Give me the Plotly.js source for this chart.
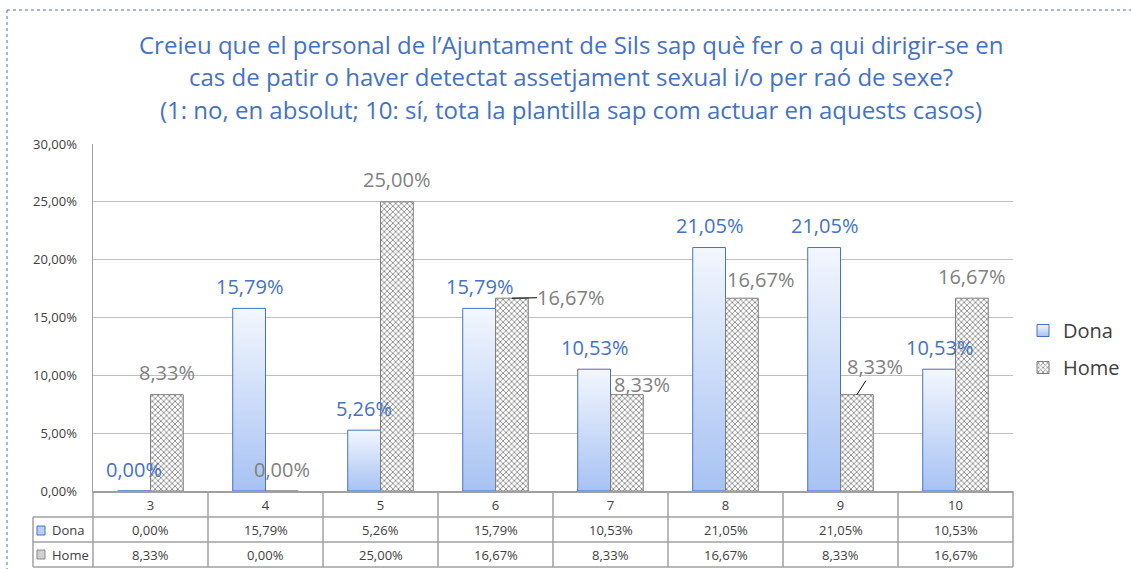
<!DOCTYPE html>
<html>
<head>
<meta charset="utf-8">
<script src="https://cdn.plot.ly/plotly-3.0.1.min.js"></script>
<style>
  html, body { margin: 0; padding: 0; background: #fff; }
  #chart { width: 1131px; height: 569px; }
</style>
</head>
<body>
<svg width="0" height="0" style="position:absolute">
  <defs>
    <linearGradient id="donaGrad" x1="0" y1="0" x2="0" y2="1">
      <stop offset="0" stop-color="#f3f7fe"/>
      <stop offset="1" stop-color="#a7c2f3"/>
    </linearGradient>
  </defs>
</svg>
<div id="chart"></div>
<script>
// ---- data ----
const categories = ['3', '4', '5', '6', '7', '8', '9', '10'];
const dona = [0.0000, 0.1579, 0.0526, 0.1579, 0.1053, 0.2105, 0.2105, 0.1053];
const home = [0.0833, 0.0000, 0.2500, 0.1667, 0.0833, 0.1667, 0.0833, 0.1667];
const seriesNames = ['Dona', 'Home'];
const titleLines = [
  "Creieu que el personal de l’Ajuntament de Sils sap què fer o a qui dirigir-se en",
  "cas de patir o haver detectat assetjament sexual i/o per raó de sexe?",
  "(1: no, en absolut; 10: sí, tota la plantilla sap com actuar en aquests casos)"
];

// ---- styling / geometry helpers ----
const W = 1131, H = 569;
const L = 93, R = 1013, T = 144, B = 491;
const PX = px => (px - L) / (R - L);
const PY = py => (B - py) / (B - T);
const BLUE = '#4472C4';
const GREY_TXT = '#808080';
const DARK = '#404040';
const GRID = '#c0c0c0';
const TABLE = '#a0a0a0';
const fmt = v => (v * 100).toFixed(2).replace('.', ',') + '%';
const FONT = 'Open Sans, Noto Sans, sans-serif';

// label placement tweaks (pixels), keyed by series index and category
const labelTweak = {
  '1-6': {arrow: true, ax: 59, ay: -1},
  '1-7': {dx: 15, dy: -12},
  '1-8': {dx: 19, dy: -3},
  '1-9': {arrow: true, ax: 18, ay: -28}
};

const data = [
  {
    type: 'bar', name: seriesNames[0], x: categories, y: dona,
    legendgroup: 'a',
    marker: {color: '#bcd0f5', line: {color: BLUE, width: 1}},
    hoverinfo: 'none'
  },
  {
    type: 'bar', name: seriesNames[1], x: categories, y: home,
    legendgroup: 'b',
    marker: {
      color: '#ffffff',
      line: {color: '#7f7f7f', width: 1},
      pattern: {shape: 'x', fgcolor: '#8a8a8a', bgcolor: '#ffffff', size: 4, solidity: 0.4}
    },
    hoverinfo: 'none'
  }
];

const annotations = [];
const shapes = [];

// title lines
const titleY = [44, 77, 109];
titleLines.forEach((t, i) => {
  annotations.push({
    xref: 'paper', yref: 'paper', x: PX(571), y: PY(titleY[i]),
    xanchor: 'center', yanchor: 'middle', showarrow: false,
    text: t, font: {family: FONT, size: 24, color: BLUE}
  });
});

// data labels
const series = [dona, home];
const off = 16.4;
series.forEach((vals, s) => {
  vals.forEach((v, i) => {
    const key = s + '-' + categories[i];
    const tw = labelTweak[key] || {};
    const a = {
      xref: 'x', yref: 'y', x: i, y: v,
      xshift: (s === 0 ? -off : off),
      text: fmt(v),
      font: {family: FONT, size: 20, color: s === 0 ? BLUE : GREY_TXT},
      xanchor: 'center', yanchor: 'middle', borderpad: 0
    };
    if (tw.arrow) {
      a.showarrow = true; a.ax = tw.ax; a.ay = tw.ay;
      a.arrowhead = 0; a.arrowwidth = 1; a.arrowcolor = '#000'; a.standoff = 0;
    } else {
      a.showarrow = false;
      a.xshift += (tw.dx || 0);
      a.yshift = 22 + (tw.dy || 0);
    }
    annotations.push(a);
  });
});

// data table
const rowY = [530, 555];
series.forEach((vals, s) => {
  vals.forEach((v, i) => {
    annotations.push({
      xref: 'x', yref: 'paper', x: i, y: PY(rowY[s]),
      text: fmt(v), showarrow: false, xanchor: 'center', yanchor: 'middle',
      font: {family: FONT, size: 13, color: DARK}
    });
  });
  annotations.push({
    xref: 'paper', yref: 'paper', x: PX(50), y: PY(rowY[s]),
    text: seriesNames[s], showarrow: false, xanchor: 'left', yanchor: 'middle',
    font: {family: FONT, size: 13, color: DARK}
  });
});
// table key squares
shapes.push({type: 'rect', xref: 'paper', yref: 'paper', x0: PX(37), x1: PX(45), y0: PY(535), y1: PY(526),
  fillcolor: '#bcd0f5', line: {color: BLUE, width: 1}});
shapes.push({type: 'rect', xref: 'paper', yref: 'paper', x0: PX(37), x1: PX(45), y0: PY(559), y1: PY(550),
  fillcolor: '#d0d0d0', line: {color: '#8a8a8a', width: 1}});
// table lines
[517, 542, 567].forEach(py => {
  shapes.push({type: 'line', xref: 'paper', yref: 'paper', x0: PX(33), x1: PX(R), y0: PY(py), y1: PY(py),
    line: {color: TABLE, width: 1.5}});
});
shapes.push({type: 'line', xref: 'paper', yref: 'paper', x0: PX(33), x1: PX(33), y0: PY(517), y1: PY(567),
  line: {color: TABLE, width: 1.5}});
for (let k = 0; k <= categories.length; k++) {
  const x = k / categories.length;
  shapes.push({type: 'line', xref: 'paper', yref: 'paper', x0: x, x1: x, y0: 0, y1: PY(567),
    line: {color: TABLE, width: 1.5}});
}
// dotted outer frame
shapes.push({type: 'line', xref: 'paper', yref: 'paper', x0: PX(7), x1: PX(1131), y0: PY(10), y1: PY(10),
  line: {color: BLUE, width: 1, dash: 'dot'}});
shapes.push({type: 'line', xref: 'paper', yref: 'paper', x0: PX(7), x1: PX(7), y0: PY(10), y1: PY(569),
  line: {color: BLUE, width: 1, dash: 'dot'}});

const layout = {
  width: W, height: H,
  margin: {l: L, r: W - R, t: T, b: H - B, pad: 0, autoexpand: false},
  paper_bgcolor: '#fff', plot_bgcolor: '#fff',
  separators: ',.',
  barmode: 'group', bargap: 0.43, bargroupgap: 0,
  showlegend: true,
  legend: {
    x: PX(1023), y: PY(349), xanchor: 'left', yanchor: 'middle',
    font: {family: FONT, size: 20, color: DARK},
    traceorder: 'grouped', tracegroupgap: 8, bgcolor: 'rgba(0,0,0,0)'
  },
  xaxis: {
    type: 'category', range: [-0.5, categories.length - 0.5], automargin: false,
    showgrid: false, zeroline: false, showline: true, linecolor: TABLE, linewidth: 1.5,
    ticks: '', tickfont: {family: FONT, size: 13, color: DARK}, ticklabelstandoff: 2
  },
  yaxis: {
    range: [0, 0.30], dtick: 0.05, tickformat: '.2%', automargin: false,
    showgrid: true, gridcolor: GRID, gridwidth: 1, zeroline: false,
    showline: true, linecolor: TABLE, linewidth: 1.5,
    ticks: '', tickfont: {family: FONT, size: 13, color: DARK}, ticklabelstandoff: 12
  },
  annotations: annotations,
  shapes: shapes
};

const gd = document.getElementById('chart');
Plotly.newPlot(gd, data, layout, {staticPlot: true, displayModeBar: false}).then(() => {
  const traces = gd.querySelectorAll('.barlayer .trace');
  if (traces.length) {
    traces[0].querySelectorAll('.point path').forEach(p => { p.style.fill = 'url(#donaGrad)'; });
  }
  const lg = gd.querySelectorAll('.legend .traces');
  if (lg.length) {
    lg[0].querySelectorAll('.legendpoints path').forEach(p => { p.style.fill = 'url(#donaGrad)'; });
  }
});
</script>
</body>
</html>
